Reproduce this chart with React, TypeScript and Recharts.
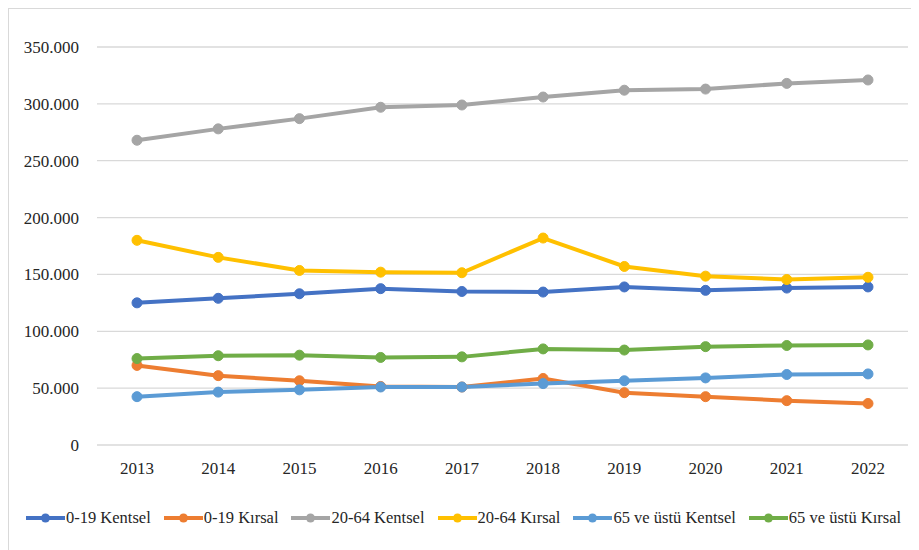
import { CartesianGrid, Legend, Line, LineChart, XAxis, YAxis } from "recharts";

const years = ["2013", "2014", "2015", "2016", "2017", "2018", "2019", "2020", "2021", "2022"];

const kentsel019 = [125000, 129000, 133000, 137500, 135000, 134500, 139000, 136000, 138000, 139000];
const kirsal019 = [70000, 61000, 56500, 51500, 51000, 58500, 46000, 42500, 39000, 36500];
const kentsel2064 = [268000, 278000, 287000, 297000, 299000, 306000, 312000, 313000, 318000, 321000];
const kirsal2064 = [180000, 165000, 153500, 152000, 151500, 182000, 157000, 148500, 145500, 147500];
const kentsel65 = [42500, 46500, 48500, 51000, 51000, 54000, 56500, 59000, 62000, 62500];
const kirsal65 = [76000, 78500, 79000, 77000, 77500, 84500, 83500, 86500, 87500, 88000];

const yTicks = [0, 50000, 100000, 150000, 200000, 250000, 300000, 350000];

const series = [
  { key: "k019", name: "0-19 Kentsel", color: "#4472C4", values: kentsel019 },
  { key: "r019", name: "0-19 Kırsal", color: "#ED7D31", values: kirsal019 },
  { key: "k2064", name: "20-64 Kentsel", color: "#A5A5A5", values: kentsel2064 },
  { key: "r2064", name: "20-64 Kırsal", color: "#FFC000", values: kirsal2064 },
  { key: "k65", name: "65 ve üstü Kentsel", color: "#5B9BD5", values: kentsel65 },
  { key: "r65", name: "65 ve üstü Kırsal", color: "#70AD47", values: kirsal65 },
];

const data = years.map((year, i) => {
  const row: Record<string, string | number> = { year };
  series.forEach((s) => {
    row[s.key] = s.values[i];
  });
  return row;
});

const font = "'Liberation Serif', 'Times New Roman', Times, serif";

const fmt = (v: number) => String(v).replace(/\B(?=(\d{3})+(?!\d))/g, ".");

function LegendContent() {
  return (
    <div style={{ display: "flex", alignItems: "center", fontFamily: font, fontSize: 16.5, color: "#262626" }}>
      {series.map((s) => (
        <div key={s.key} style={{ display: "flex", alignItems: "center", marginRight: 13 }}>
          <svg width={39} height={12} style={{ marginRight: 1 }}>
            <line x1={0} y1={6} x2={39} y2={6} stroke={s.color} strokeWidth={4} />
            <circle cx={19.5} cy={6} r={4.5} fill={s.color} />
          </svg>
          <span>{s.name}</span>
        </div>
      ))}
    </div>
  );
}

export default function App() {
  return (
    <div style={{ width: 907, height: 545, border: "1px solid #d9d9d9", background: "#fff", fontFamily: font }}>
      <LineChart width={907} height={541} data={data} margin={{ top: 38, right: 8, left: 0, bottom: 45 }}>
        <CartesianGrid vertical={false} stroke="#d9d9d9" strokeWidth={1.3} />
        <XAxis
          dataKey="year"
          axisLine={false}
          tickLine={false}
          tickSize={0}
          tickMargin={17}
          height={40}
          padding={{ left: 40, right: 40 }}
          tick={{ fontSize: 17, fill: "#262626", fontFamily: font }}
        />
        <YAxis
          domain={[0, 350000]}
          ticks={yTicks}
          tickFormatter={fmt}
          axisLine={false}
          tickLine={false}
          tickSize={0}
          tickMargin={18}
          width={88}
          tick={{ fontSize: 17, fill: "#262626", fontFamily: font }}
        />
        <Legend
          content={<LegendContent />}
          wrapperStyle={{ position: "absolute", left: 17, top: 499, width: 905 }}
        />
        {series.map((s) => (
          <Line
            key={s.key}
            dataKey={s.key}
            name={s.name}
            stroke={s.color}
            strokeWidth={4}
            dot={{ r: 5, fill: s.color, stroke: s.color, strokeWidth: 1 }}
            activeDot={false}
            isAnimationActive={false}
          />
        ))}
      </LineChart>
    </div>
  );
}
